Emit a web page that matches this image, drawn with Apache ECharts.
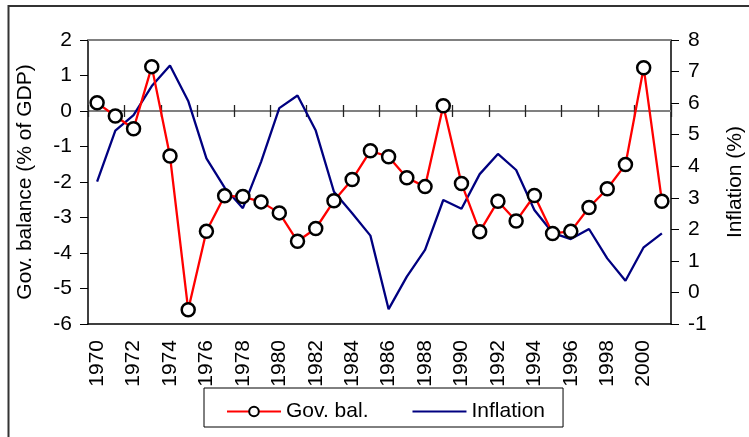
<!DOCTYPE html>
<html><head><meta charset="utf-8">
<script src="https://cdn.jsdelivr.net/npm/echarts@6/dist/echarts.min.js"></script>
<style>html,body{margin:0;padding:0;background:#fff}#c{width:749px;height:437px}</style>
</head><body><div id="c"></div>
<script>
const years = ['1970','1971','1972','1973','1974','1975','1976','1977','1978','1979',
  '1980','1981','1982','1983','1984','1985','1986','1987','1988','1989',
  '1990','1991','1992','1993','1994','1995','1996','1997','1998','1999',
  '2000','2001'];
const govBalance = [0.23,-0.14,-0.5,1.25,-1.27,-5.6,-3.39,-2.39,-2.41,-2.56,
  -2.87,-3.67,-3.31,-2.53,-1.93,-1.12,-1.29,-1.88,-2.13,0.15,
  -2.04,-3.4,-2.54,-3.1,-2.38,-3.45,-3.39,-2.72,-2.19,-1.51,
  1.22,-2.54];
const inflation = [3.51,5.13,5.62,6.54,7.19,6.07,4.25,3.32,2.67,4.14,
  5.84,6.24,5.13,3.19,2.51,1.80,-0.53,0.50,1.35,2.93,
  2.65,3.75,4.39,3.88,2.61,1.89,1.69,2.01,1.08,0.37,
  1.43,1.87];
const leftAxis = {name:'Gov. balance (% of GDP)', min:-6, max:2, interval:1};
const rightAxis = {name:'Inflation (%)', min:-1, max:8, interval:1};
const seriesNames = ['Gov. bal.','Inflation'];

const FONT = "'Liberation Sans', Arial, sans-serif";
const chart = echarts.init(document.getElementById('c'), null, {renderer:'canvas'});
const hidden = {show:false};
const option = {
  animation:false,
  textStyle:{fontFamily:FONT, color:'#000'},
  graphic:[{type:'rect', silent:true, z:-10,
    shape:{x:8.5, y:6, width:800, height:500},
    style:{fill:'none', stroke:'#333', lineWidth:2}}],
  grid:{left:88, top:40, width:583, height:284, containLabel:false, outerBoundsMode:'none'},
  legend:{left:204, top:388,
    data:[{name:seriesNames[0]}, {name:seriesNames[1], itemStyle:{opacity:0}}],
    itemWidth:54, itemHeight:12, itemGap:43,
    padding:[13,18,5,22], borderColor:'#000', borderWidth:1,
    textStyle:{fontSize:21, color:'#000', fontFamily:FONT}},
  xAxis:[
    {type:'category', data:years, position:'bottom', boundaryGap:true,
      axisLine:{show:true, onZero:true, onZeroAxisIndex:0, lineStyle:{color:'#808080', width:2}},
      axisTick:{show:true, length:6, lineStyle:{color:'#222', width:1.3}},
      axisLabel:hidden, splitLine:hidden},
    {type:'category', data:years, position:'top', boundaryGap:true,
      axisLine:{show:true, onZero:true, onZeroAxisIndex:0, lineStyle:{color:'#808080', width:2}},
      axisTick:{show:true, length:6, lineStyle:{color:'#222', width:1.3}},
      axisLabel:hidden, splitLine:hidden},
    {type:'category', data:years, position:'bottom', boundaryGap:true,
      axisLine:{show:true, onZero:false, lineStyle:{color:'#000', width:1.5}},
      axisTick:hidden,
      axisLabel:{show:true, interval:1, rotate:90, fontSize:21, color:'#000', margin:16, fontFamily:FONT},
      splitLine:hidden},
    {type:'category', data:years, position:'top', boundaryGap:true,
      axisLine:{show:true, onZero:false, lineStyle:{color:'#808080', width:2}},
      axisTick:hidden, axisLabel:hidden, splitLine:hidden}
  ],
  yAxis:[
    {type:'value', position:'left', min:leftAxis.min, max:leftAxis.max, interval:leftAxis.interval,
      name:leftAxis.name, nameLocation:'middle', nameRotate:90, nameGap:52,
      nameTextStyle:{fontSize:21, color:'#000', fontFamily:FONT},
      axisLine:{show:true, onZero:false, lineStyle:{color:'#000', width:1.5}},
      axisTick:{show:true, length:8, lineStyle:{color:'#000', width:1}},
      axisLabel:{fontSize:21, color:'#000', margin:16, fontFamily:FONT},
      splitLine:hidden},
    {type:'value', position:'right', min:rightAxis.min, max:rightAxis.max, interval:rightAxis.interval,
      name:rightAxis.name, nameLocation:'middle', nameRotate:90, nameGap:54,
      nameTextStyle:{fontSize:21, color:'#000', fontFamily:FONT},
      axisLine:{show:true, onZero:false, lineStyle:{color:'#000', width:1.5}},
      axisTick:{show:true, length:8, lineStyle:{color:'#000', width:1}},
      axisLabel:{fontSize:21, color:'#000', margin:17, fontFamily:FONT},
      splitLine:hidden}
  ],
  series:[
    {name:seriesNames[1], type:'line', xAxisIndex:0, yAxisIndex:1, data:inflation,
      symbol:'none', z:2,
      lineStyle:{color:'#000080', width:2.3}, itemStyle:{color:'#000080'}},
    {name:seriesNames[0], type:'line', xAxisIndex:0, yAxisIndex:0, data:govBalance,
      symbol:'circle', symbolSize:13, showAllSymbol:true, z:3,
      lineStyle:{color:'#ff0000', width:2.3},
      itemStyle:{color:'#ffffff', borderColor:'#000', borderWidth:2.5}}
  ]
};
chart.setOption(option);
</script>
</body></html>
